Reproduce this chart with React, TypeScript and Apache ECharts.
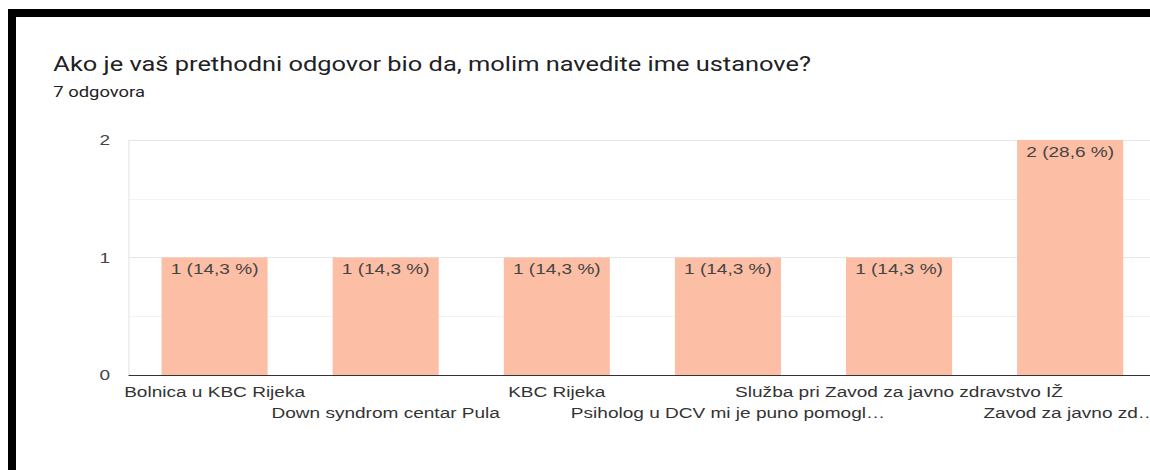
import React, { useEffect, useRef } from "react";
import * as echarts from "echarts";

const titleText = "Ako je vaš prethodni odgovor bio da, molim navedite ime ustanove?";
const subtitleText = "7 odgovora";
const categories = [
  "Bolnica u KBC Rijeka",
  "Down syndrom centar Pula",
  "KBC Rijeka",
  "Psiholog u DCV mi je puno pomogl…",
  "Služba pri Zavod za javno zdravstvo IŽ",
  "Zavod za javno zd…",
];
const counts = [1, 1, 1, 1, 1, 2];
const totalResponses = 7;
const yTicks = [0, 1, 2];

const SX = 1.27; // horizontal stretch of the reference
const CHART_W = 914;

export default function App() {
  const ref = useRef<HTMLDivElement>(null);

  useEffect(() => {
    if (!ref.current) return;
    const chart = echarts.init(ref.current, undefined, { renderer: "svg" });
    const axisFont = "'Liberation Sans', Arial, sans-serif";
    chart.setOption({
      animation: false,
      title: [
        {
          text: titleText,
          left: 42,
          top: 54,
          padding: 0,
          textStyle: { fontFamily: "Roboto", fontSize: 20, fontWeight: "normal", color: "#202124" },
        },
        {
          text: subtitleText,
          left: 42,
          top: 85,
          padding: 0,
          textStyle: { fontFamily: "Roboto", fontSize: 14.5, fontWeight: "normal", color: "#202124" },
        },
      ],
      grid: { left: 101.6, right: 3.9, top: 140, bottom: 95, containLabel: false },
      xAxis: {
        type: "category",
        data: categories,
        axisTick: { show: false },
        axisLine: { lineStyle: { color: "#333", width: 1 } },
        axisLabel: {
          interval: 0,
          fontFamily: axisFont,
          fontSize: 15,
          color: "#333",
          margin: 6,
          lineHeight: 21,
          formatter: (v: string, i: number) => (i % 2 ? "\n" + v : v),
        },
      },
      yAxis: {
        type: "value",
        min: yTicks[0],
        max: yTicks[yTicks.length - 1],
        interval: 1,
        axisLabel: { fontFamily: axisFont, fontSize: 15, color: "#444", margin: 15 },
        axisLine: { show: true, lineStyle: { color: "#e8e8e8" } },
        axisTick: { show: false },
        splitLine: { lineStyle: { color: "#e6e6e6" } },
        minorTick: { show: false, splitNumber: 2 },
        minorSplitLine: { show: true, lineStyle: { color: "#f3f3f3" } },
      },
      series: [
        {
          type: "bar",
          data: counts,
          barCategoryGap: "38%",
          itemStyle: { color: "#fcbfa6" },
          label: {
            show: true,
            position: "insideTop",
            distance: 4,
            fontFamily: axisFont,
            fontSize: 15,
            color: "#444",
            formatter: (p: any) =>
              `${p.value} (${((p.value / totalResponses) * 100).toFixed(1).replace(".", ",")} %)`,
          },
        },
      ],
    });
    return () => chart.dispose();
  }, []);

  return (
    <div
      style={{
        position: "fixed",
        left: 0,
        top: 0,
        width: 1150,
        height: 470,
        overflow: "hidden",
        background: "#fff",
      }}
    >
      <div
        ref={ref}
        style={{
          position: "absolute",
          left: 0,
          top: 0,
          width: CHART_W,
          height: 470,
          transform: `scaleX(${SX})`,
          transformOrigin: "0 0",
        }}
      />
      <div style={{ position: "absolute", left: 8, top: 9, width: 1142, height: 8, background: "#000" }} />
      <div style={{ position: "absolute", left: 8, top: 9, width: 8, height: 461, background: "#000" }} />
    </div>
  );
}
